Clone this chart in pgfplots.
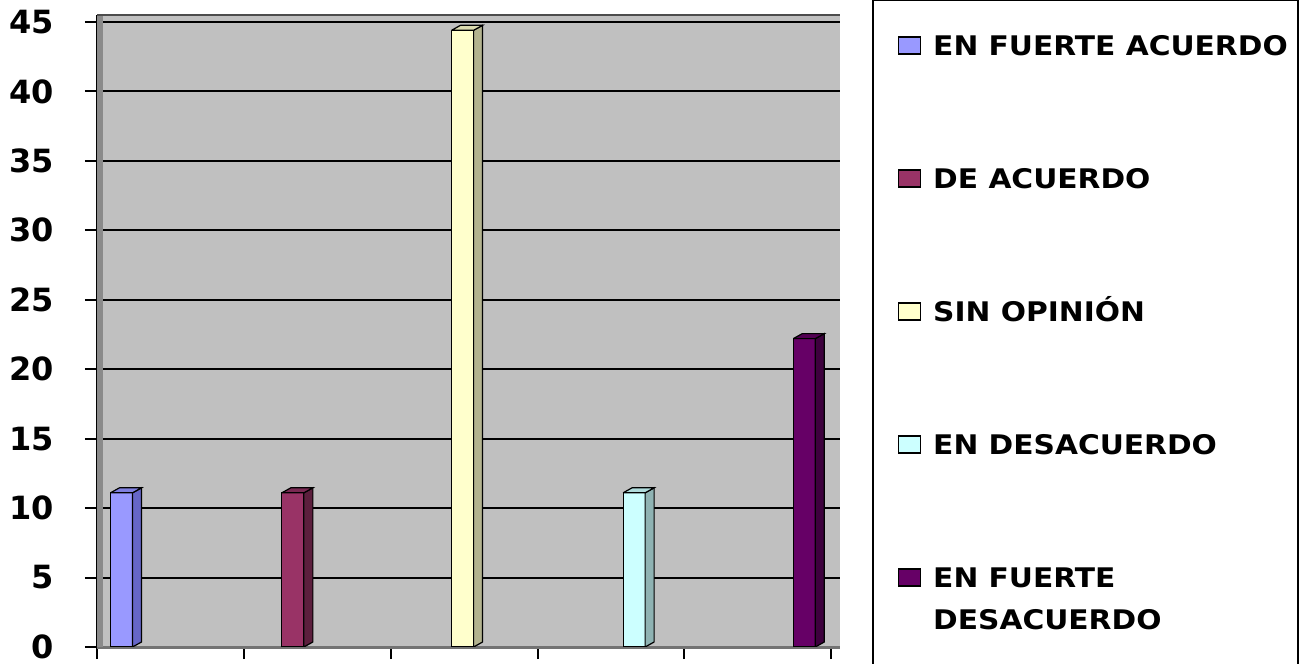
\documentclass[border=0pt]{standalone}
\usepackage{fontspec}
\setmainfont{DejaVu Sans}
\newfontfamily\legfont{DejaVu Sans}[FakeStretch=1.1]
\usepackage{pgfplots}
\pgfplotsset{compat=1.18}
\definecolor{plotbg}{HTML}{C0C0C0}
\definecolor{wall}{HTML}{8A8A8A}
\definecolor{c1}{HTML}{9999FF}\definecolor{c1s}{HTML}{6666C8}\definecolor{c1t}{HTML}{8080E0}
\definecolor{c2}{HTML}{993366}\definecolor{c2s}{HTML}{5C1F3D}\definecolor{c2t}{HTML}{7A2952}
\definecolor{c3}{HTML}{FFFFCC}\definecolor{c3s}{HTML}{B3B38F}\definecolor{c3t}{HTML}{DCDCB0}
\definecolor{c4}{HTML}{CCFFFF}\definecolor{c4s}{HTML}{8FB3B3}\definecolor{c4t}{HTML}{B0DCDC}
\definecolor{c5}{HTML}{660066}\definecolor{c5s}{HTML}{3D003D}\definecolor{c5t}{HTML}{520052}
\begin{document}
\begin{tikzpicture}
\path[use as bounding box] (0,0) rectangle (651bp,332bp);
\begin{axis}[
  at={(48.5bp,8.5bp)}, anchor=south west,
  scale only axis, width=371.5bp, height=316bp,
  xmin=0, xmax=5.06, ymin=0, ymax=45.5,
  xtick={0,1,2,3,4,5}, xticklabels={},
  ytick={0,5,...,45},
  axis x line*=bottom, axis y line*=left,
  x axis line style={draw=black!55, line width=1.5bp},
  y axis line style={draw=black, line width=1bp},
  tick align=outside, major tick length=6bp,
  tick style={draw=black, line width=1bp},
  ymajorgrids, grid style={draw=black, line width=1bp},
  axis background/.style={fill=plotbg},
  /pgf/number format/assume math mode=true,
  yticklabel style={font=\bfseries\fontsize{16bp}{18bp}\selectfont, anchor=east, inner sep=0pt, xshift=-15.5bp},
  legend image code/.code={\draw[#1, draw=black, line width=0.6bp] (0bp,-4.25bp) rectangle (11bp,4.25bp);},
  legend cell align=left,
  legend style={at={(axis description cs:1.0781,0.9674)}, anchor=north west,
    draw=none, fill=none, inner sep=0pt, outer sep=0pt,
    row sep=56.66bp, column sep=6bp,
    nodes={inner sep=0pt, outer sep=0pt, text height=9.84bp, text depth=0pt,
      font=\legfont\bfseries\fontsize{13.5bp}{21bp}\selectfont}},
]
% left wall
\addplot[forget plot, fill=wall, draw=none] coordinates {(0,0) (0.04,0) (0.04,45.5) (0,45.5) (0,0)};
% front faces (legend entries)
\addplot[ybar, bar width=11bp, bar shift=0pt, fill=c1, draw=black, line width=0.6bp] coordinates {(0.167,11.1)};
\addplot[ybar, bar width=11bp, bar shift=0pt, fill=c2, draw=black, line width=0.6bp] coordinates {(1.334,11.1)};
\addplot[ybar, bar width=11bp, bar shift=0pt, fill=c3, draw=black, line width=0.6bp] coordinates {(2.490,44.4)};
\addplot[ybar, bar width=11bp, bar shift=0pt, fill=c4, draw=black, line width=0.6bp] coordinates {(3.658,11.1)};
\addplot[ybar, bar width=11bp, bar shift=0pt, fill=c5, draw=black, line width=0.6bp] coordinates {(4.817,22.2)};
% side faces
\addplot[forget plot, fill=c1s, draw=black, line width=0.6bp] coordinates {(0.242,0) (0.303,0.36) (0.303,11.46) (0.242,11.1) (0.242,0)};
\addplot[forget plot, fill=c2s, draw=black, line width=0.6bp] coordinates {(1.409,0) (1.470,0.36) (1.470,11.46) (1.409,11.1) (1.409,0)};
\addplot[forget plot, fill=c3s, draw=black, line width=0.6bp] coordinates {(2.565,0) (2.626,0.36) (2.626,44.76) (2.565,44.4) (2.565,0)};
\addplot[forget plot, fill=c4s, draw=black, line width=0.6bp] coordinates {(3.733,0) (3.794,0.36) (3.794,11.46) (3.733,11.1) (3.733,0)};
\addplot[forget plot, fill=c5s, draw=black, line width=0.6bp] coordinates {(4.892,0) (4.953,0.36) (4.953,22.56) (4.892,22.2) (4.892,0)};
% top faces
\addplot[forget plot, fill=c1t, draw=black, line width=0.6bp] coordinates {(0.092,11.1) (0.153,11.46) (0.303,11.46) (0.242,11.1) (0.092,11.1)};
\addplot[forget plot, fill=c2t, draw=black, line width=0.6bp] coordinates {(1.259,11.1) (1.320,11.46) (1.470,11.46) (1.409,11.1) (1.259,11.1)};
\addplot[forget plot, fill=c3t, draw=black, line width=0.6bp] coordinates {(2.415,44.4) (2.476,44.76) (2.626,44.76) (2.565,44.4) (2.415,44.4)};
\addplot[forget plot, fill=c4t, draw=black, line width=0.6bp] coordinates {(3.583,11.1) (3.644,11.46) (3.794,11.46) (3.733,11.1) (3.583,11.1)};
\addplot[forget plot, fill=c5t, draw=black, line width=0.6bp] coordinates {(4.742,22.2) (4.803,22.56) (4.953,22.56) (4.892,22.2) (4.742,22.2)};
\draw[black!70, line width=0.8bp] (axis description cs:0,1) -- (axis description cs:1,1);
\legend{EN FUERTE ACUERDO, DE ACUERDO, SIN OPINIÓN, EN DESACUERDO,
  {\begin{tabular}[t]{@{}l@{}}EN FUERTE\\DESACUERDO\end{tabular}}}
\end{axis}
\draw[black, line width=1.2bp] (436.5bp,-5bp) rectangle (649bp,332bp);
\end{tikzpicture}
\end{document}
